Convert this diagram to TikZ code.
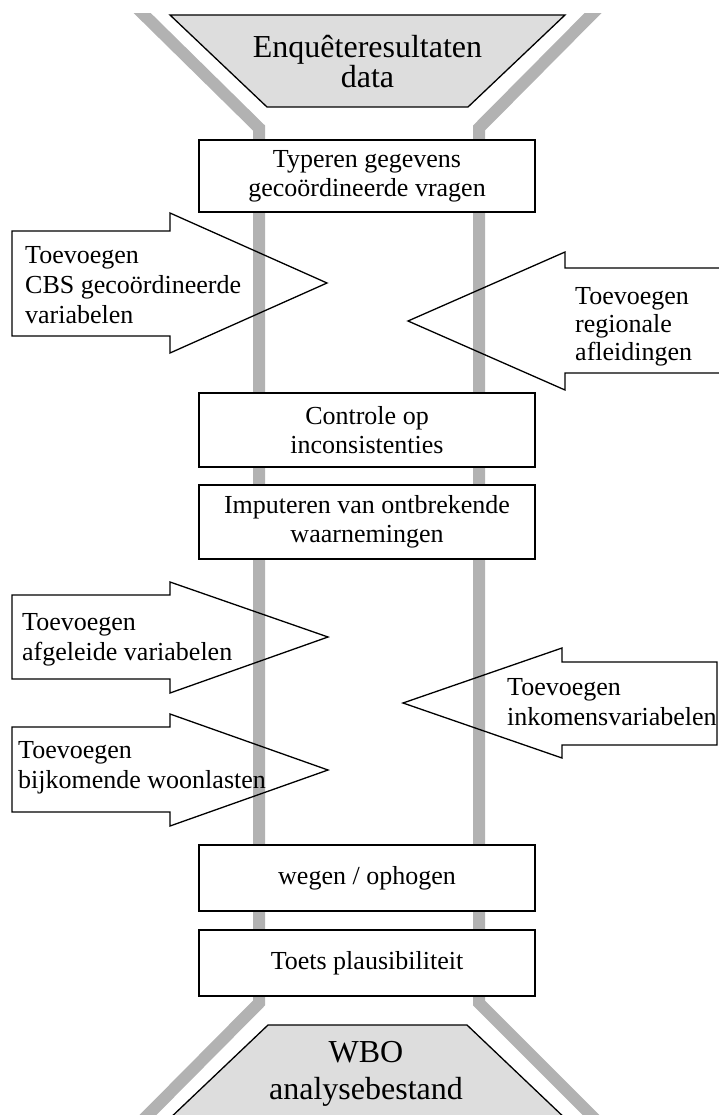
\documentclass[tikz,border=0pt]{standalone}
\usepackage{fontspec}
\setmainfont{Liberation Serif}
\definecolor{railgray}{RGB}{178,178,178}
\definecolor{endgray}{RGB}{221,221,221}
\begin{document}
\begin{tikzpicture}[x=1pt,y=-1pt,
  rail/.style={draw=railgray,line width=12pt},
  endshape/.style={draw=black,fill=endgray,line width=1.3pt},
  endlabel/.style={inner sep=0pt,anchor=base,align=center,font=\fontsize{32}{#1}\selectfont},
  stepbox/.style={draw=black,fill=white,line width=1.4pt,minimum width=336pt,
    minimum height=#1,inner sep=0pt,align=center,font=\fontsize{26}{29}\selectfont},
  addarrow/.style={draw=black,line width=1.3pt},
  addlabel/.style={inner sep=0pt,anchor=base west,align=left,font=\fontsize{26}{#1}\selectfont},
  addlabel/.default=30,
]
\useasboundingbox (0,0) rectangle (719,1115);
\clip (0,0) rectangle (719,1115);

% the two grey rails that run from the input funnel to the output funnel
\begin{scope}
  \clip (0,14) rectangle (719,1130);
  \draw[rail] (133,4) -- (259,128) -- (259,1003) -- (140,1123);
  \draw[rail] (602,4) -- (479,128) -- (479,1003) -- (599,1123);
\end{scope}

% input and output funnels (labels are placed by the baseline of their last line)
\path[endshape] (170,15) -- (565,15) -- (468,107) -- (267,107) -- cycle;
\node[endlabel=29] (source) at (367.5,88) {Enquêteresultaten\\data};

\path[endshape] (268,1025) -- (467,1025) -- (569,1122) -- (166,1122) -- cycle;
\node[endlabel=37] (result) at (366,1099) {WBO\\analysebestand};

% processing steps
\node[stepbox=72pt] (typeren)  at (367,176) {Typeren gegevens\\gecoördineerde vragen};
\node[stepbox=74pt] (controle) at (367,430) {Controle op\\inconsistenties};
\node[stepbox=74pt] (imputeren) at (367,522) {Imputeren van ontbrekende\\waarnemingen};
\node[stepbox=66pt] (wegen)    at (367,878) {wegen / ophogen};
\node[stepbox=66pt] (toets)    at (367,963) {Toets plausibiliteit};

% additions entering the stream from the left
\draw[addarrow] (12,231) -- (170,231) -- (170,213) -- (327,283) -- (170,353) -- (170,336) -- (12,336) -- cycle;
\node[addlabel] (cbs) at (25,323) {Toevoegen\\CBS gecoördineerde\\variabelen};

\draw[addarrow] (12,595) -- (170,595) -- (170,582) -- (328,637) -- (170,693) -- (170,679) -- (12,679) -- cycle;
\node[addlabel] (afgeleid) at (22,660) {Toevoegen\\afgeleide variabelen};

\draw[addarrow] (12,727) -- (170,727) -- (170,714) -- (328,770) -- (170,826) -- (170,812) -- (12,812) -- cycle;
\node[addlabel] (woonlast) at (18,788) {Toevoegen\\bijkomende woonlasten};

% additions entering the stream from the right
\draw[addarrow] (730,268) -- (565,268) -- (565,252) -- (408,321) -- (565,390) -- (565,373) -- (730,373);
\node[addlabel=28] (regionaal) at (575,360) {Toevoegen\\regionale\\afleidingen};

\draw[addarrow] (717,662) -- (562,662) -- (562,648) -- (403,703) -- (562,758) -- (562,745) -- (717,745) -- cycle;
\node[addlabel] (inkomen) at (507,725) {Toevoegen\\inkomensvariabelen};
\end{tikzpicture}
\end{document}
